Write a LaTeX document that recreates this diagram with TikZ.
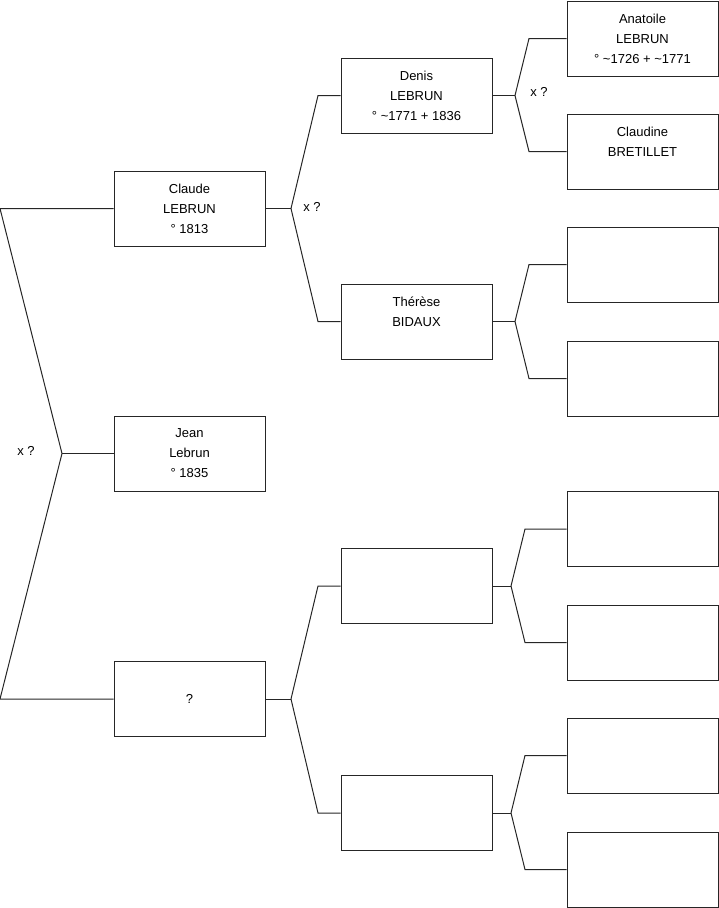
\documentclass[tikz,border=0pt]{standalone}
\usepackage{fontspec}
\setmainfont{Liberation Sans}
\usetikzlibrary{positioning}

\begin{document}
\begin{tikzpicture}[
  x=1pt, y=-1pt,
  every node/.style={font=\fontsize{13}{20}\selectfont},
  pers/.style={draw=black!85, line width=1pt, minimum width=151pt, minimum height=75pt,
               inner sep=0pt, align=center, fill=white},
  lien/.style={draw=black!85, line width=1pt},
  lbl/.style={inner sep=0pt}
]
\useasboundingbox (0,0) rectangle (719,908);

% generation 1
\node[pers] (claude)  at (189.5,208.5) {Claude\\LEBRUN\\° 1813};
\node[pers] (jean)    at (189.5,453.5) {Jean\\Lebrun\\° 1835};
\node[pers] (inconnu) at (189.5,699)   {?};

% generation 2
\node[pers] (denis)   at (416.5,95.5)  {Denis\\LEBRUN\\° \textasciitilde1771 + 1836};
\node[pers] (therese) at (416.5,321.5) {Thérèse\\BIDAUX\\\mbox{}};
\node[pers] (pereB)   at (416.5,586)   {};
\node[pers] (mereB)   at (416.5,813)   {};

% generation 3
\node[pers] (anatoile) at (642.5,38.5)  {Anatoile\\LEBRUN\\° \textasciitilde1726 + \textasciitilde1771};
\node[pers] (claudine) at (642.5,151.5) {Claudine\\BRETILLET\\\mbox{}};
\node[pers] (g3c) at (642.5,264.5) {};
\node[pers] (g3d) at (642.5,378.5) {};
\node[pers] (g3e) at (642.5,529)   {};
\node[pers] (g3f) at (642.5,642.5) {};
\node[pers] (g3g) at (642.5,755.5) {};
\node[pers] (g3h) at (642.5,869.5) {};

% fourches
\coordinate (r1) at (0,208.5);
\coordinate (r2) at (62,453.5);
\coordinate (r3) at (0,699);
\draw[lien] (claude.west) -- (r1) -- (r2) -- (r3) -- (inconnu.west);
\draw[lien] (r2) -- (jean.west);

\coordinate (fc) at (291,208.5);
\draw[lien] (claude.east) -- (fc);
\draw[lien] (fc) -- (318,95.5) -- (denis.west);
\draw[lien] (fc) -- (318,321.5) -- (therese.west);

\coordinate (fi) at (291,699);
\draw[lien] (inconnu.east) -- (fi);
\draw[lien] (fi) -- (318,586) -- (pereB.west);
\draw[lien] (fi) -- (318,813) -- (mereB.west);

\coordinate (fd) at (515,95.5);
\draw[lien] (denis.east) -- (fd);
\draw[lien] (fd) -- (529,38.5) -- (anatoile.west);
\draw[lien] (fd) -- (529,151.5) -- (claudine.west);

\coordinate (ft) at (515,321.5);
\draw[lien] (therese.east) -- (ft);
\draw[lien] (ft) -- (529,264.5) -- (g3c.west);
\draw[lien] (ft) -- (529,378.5) -- (g3d.west);

\coordinate (fp) at (511,586);
\draw[lien] (pereB.east) -- (fp);
\draw[lien] (fp) -- (525,529) -- (g3e.west);
\draw[lien] (fp) -- (525,642.5) -- (g3f.west);

\coordinate (fm) at (511,813);
\draw[lien] (mereB.east) -- (fm);
\draw[lien] (fm) -- (525,755.5) -- (g3g.west);
\draw[lien] (fm) -- (525,869.5) -- (g3h.west);

% unions
\node[lbl] (u1) at (26,451)  {x ?};
\node[lbl] (u2) at (312,207) {x ?};
\node[lbl] (u3) at (539,92)  {x ?};

\end{tikzpicture}
\end{document}
